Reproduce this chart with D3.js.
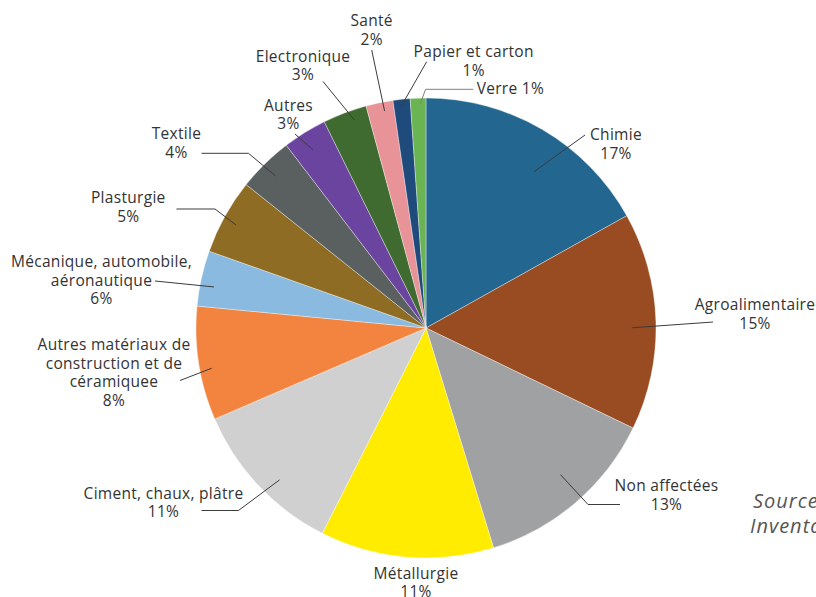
<!DOCTYPE html>
<html>
<head>
<meta charset="utf-8">
<script src="https://cdn.jsdelivr.net/npm/d3@7"></script>
<style>
  html, body { margin: 0; padding: 0; background: #ffffff; }
  svg { display: block; }
  text { font-family: "Open Sans", "DejaVu Sans", sans-serif; }
</style>
</head>
<body>
<svg id="chart" width="816" height="597"></svg>
<script>
// ---------- data ----------
const categories = [
  "Chimie", "Agroalimentaire", "Non affectées", "Métallurgie",
  "Ciment, chaux, plâtre", "Autres matériaux de construction et de céramiquee",
  "Mécanique, automobile, aéronautique", "Plasturgie", "Textile", "Autres",
  "Electronique", "Santé", "Papier et carton", "Verre"
];
const values = [16.9, 15.3, 13.1, 12.2, 11.1, 8.0, 3.9, 5.3, 3.9, 3.1, 3.1, 1.9, 1.2, 1.1];
const percentLabels = ["17%", "15%", "13%", "11%", "11%", "8%", "6%", "5%", "4%", "3%", "3%", "2%", "1%", "1%"];
// how each category name is broken into lines in its label
const nameLines = [
  ["Chimie"], ["Agroalimentaire"], ["Non affectées"], ["Métallurgie"],
  ["Ciment, chaux, plâtre"], ["Autres matériaux de", "construction et de", "céramiquee"],
  ["Mécanique, automobile,", "aéronautique"], ["Plasturgie"], ["Textile"], ["Autres"],
  ["Electronique"], ["Santé"], ["Papier et carton"], ["Verre"]
];
const sourceLines = ["Source : Citepa, 2023", "Inventaire Secten"];

// ---------- style ----------
const colors = [
  "#23668f", "#994b21", "#a0a1a2", "#ffec00", "#d0d0d0", "#f2843f", "#8abae0",
  "#8e6c23", "#5a5f5f", "#6a449e", "#3f6a30", "#e79397", "#1e4a7c", "#6ab453"
];

// label layout: text anchor position, leader-line bend points, where the leader starts in the slice
const labelLayout = [
  { x: 616,   y: 140,   anchor: "middle", pts: [[585, 135]], t: 0.57, r: 190 },
  { x: 755,   y: 310,   anchor: "middle", pts: [[713, 322]], t: 0.53, r: 206 },
  { x: 666.5, y: 491,   anchor: "middle", pts: [[588, 504.5], [620, 504.5]], t: 0.46, r: 199 },
  { x: 416,   y: 578.5, anchor: "middle", pts: null },
  { x: 163.5, y: 498.5, anchor: "middle", pts: [[238.5, 510.5], [201.5, 510.5]], t: 0.43, r: 211 },
  { x: 114,   y: 350,   anchor: "middle", pts: [[180, 380.5]], t: 0.44, r: 218 },
  { x: 101.5, y: 267,   anchor: "middle", pts: [[155, 281]], t: 0.39, r: 216 },
  { x: 128.3, y: 203,   anchor: "middle", pts: [[215, 209], [176.5, 209]], t: 0.47, r: 216 },
  { x: 176.5, y: 139.3, anchor: "middle", pts: [[248.5, 153.3], [201.5, 153.3]], t: 0.48, r: 214 },
  { x: 288.5, y: 110.7, anchor: "middle", pts: [[295, 134]], t: 0.45, r: 211 },
  { x: 303,   y: 61.7,  anchor: "middle", pts: [[323, 81.5]], t: 0.65, r: 220 },
  { x: 371.7, y: 26,    anchor: "middle", pts: [[371.7, 50]], t: 0.63, r: 221 },
  { x: 473.7, y: 57,    anchor: "middle", pts: [[426.7, 61.7]], t: 0.43, r: 223 },
  { x: 476.7, y: 94,    anchor: "start",  pts: [[425.5, 89.3], [473.3, 89.3]], t: 0.63, r: 224, inline: true }
];

const W = 816, H = 597;
const cx = 426, cy = 328, R = 230;
const lineH = 18.6;
const fontSize = 15.5;
const textColor = "#333333";

const svg = d3.select("#chart");

const data = categories.map((c, i) => ({ name: c, value: values[i], pct: percentLabels[i], lines: nameLines[i], i }));

const pie = d3.pie().value(d => d.value).sort(null).startAngle(0).endAngle(2 * Math.PI);
const arcs = pie(data);
const arc = d3.arc().innerRadius(0).outerRadius(R);

const g = svg.append("g").attr("transform", `translate(${cx},${cy})`);

g.selectAll("path.slice")
  .data(arcs)
  .enter().append("path")
  .attr("class", "slice")
  .attr("d", arc)
  .attr("fill", d => colors[d.data.i])
  .attr("stroke", "#ffffff")
  .attr("stroke-opacity", 0.6)
  .attr("stroke-width", 0.6);

// leader lines
const line = d3.line();
arcs.forEach(a => {
  const L = labelLayout[a.data.i];
  if (!L.pts) return;
  const ang = a.startAngle + (a.endAngle - a.startAngle) * L.t;
  const start = [cx + L.r * Math.sin(ang), cy - L.r * Math.cos(ang)];
  svg.append("path")
    .attr("d", line([start, ...L.pts]))
    .attr("fill", "none")
    .attr("stroke", L.inline ? "#808080" : "#3c3c3c")
    .attr("stroke-width", 1);
});

// labels
arcs.forEach(a => {
  const L = labelLayout[a.data.i];
  const lines = L.inline ? [a.data.lines.join(" ") + " " + a.data.pct] : [...a.data.lines, a.data.pct];
  const t = svg.append("text")
    .attr("x", L.x)
    .attr("y", L.y)
    .attr("text-anchor", L.anchor)
    .attr("font-size", fontSize)
    .attr("letter-spacing", "0.3px")
    .attr("fill", textColor);
  lines.forEach((s, k) => {
    t.append("tspan").attr("x", L.x).attr("y", L.y + k * lineH).text(s);
  });
});

// source note (clipped by the window edge)
const src = svg.append("text")
  .attr("font-size", 20)
  .attr("font-style", "italic")
  .attr("letter-spacing", "1px")
  .attr("fill", "#555555");
src.append("tspan").attr("x", 753).attr("y", 508).text(sourceLines[0]);
src.append("tspan").attr("x", 750).attr("y", 533).text(sourceLines[1]);
</script>
</body>
</html>
